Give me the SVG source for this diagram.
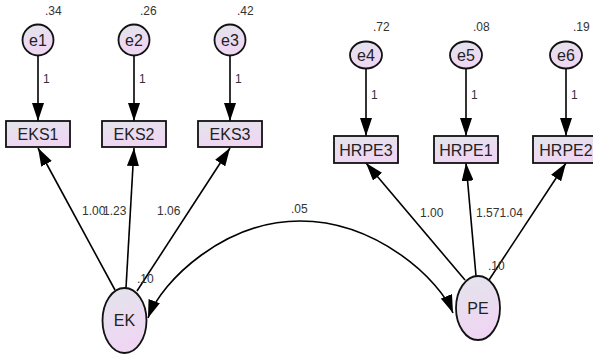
<svg xmlns="http://www.w3.org/2000/svg" width="593" height="357" viewBox="0 0 593 357">
<defs>
<linearGradient id="g" x1="0" y1="0" x2="0.3" y2="1">
<stop offset="0" stop-color="#e3e4ec"/>
<stop offset="1" stop-color="#efd6f3"/>
</linearGradient>
<marker id="ah" viewBox="0 0 18 12" refX="18" refY="6" markerWidth="18" markerHeight="12" orient="auto-start-reverse" markerUnits="userSpaceOnUse">
<path d="M0,0 L18,6 L0,12 z" fill="#000"/>
</marker>
</defs>
<style>
.n{fill:url(#g);stroke:#111;stroke-width:1.8}
.t{font-family:"Liberation Sans",Arial,sans-serif;font-size:16px;fill:#222;text-anchor:middle}
.s{font-family:"Liberation Sans",Arial,sans-serif;font-size:12px;fill:#333}
.c{fill:none;stroke:#000;stroke-width:1.6}
.a{marker-end:url(#ah)}
.b{marker-start:url(#ah);marker-end:url(#ah)}
</style>
<g id="connectors">
<line class="c a" x1="38" y1="55.5" x2="38" y2="121"/>
<line class="c a" x1="134" y1="55.5" x2="134" y2="121"/>
<line class="c a" x1="230" y1="55.5" x2="230" y2="121"/>
<line class="c a" x1="366" y1="68.5" x2="366" y2="136"/>
<line class="c a" x1="466" y1="68.5" x2="466" y2="136"/>
<line class="c a" x1="566" y1="68.5" x2="566" y2="136"/>
<line class="c a" x1="115" y1="290" x2="38" y2="148"/>
<line class="c a" x1="126" y1="288" x2="134" y2="148"/>
<line class="c a" x1="137" y1="291" x2="230" y2="148"/>
<line class="c a" x1="465" y1="280" x2="366" y2="163"/>
<line class="c a" x1="476" y1="276" x2="466" y2="163"/>
<line class="c a" x1="489" y1="280" x2="566" y2="163"/>
<path class="c b" d="M148,318 C162,280 225,221 300,221 C377,221 440,280 453,313"/>
<text class="s" x="43" y="83">1</text>
<text class="s" x="139" y="83">1</text>
<text class="s" x="235" y="83">1</text>
<text class="s" x="371" y="99">1</text>
<text class="s" x="471" y="99">1</text>
<text class="s" x="571" y="99">1</text>
<text class="s" x="82" y="215">1.00</text>
<text class="s" x="103" y="215">1.23</text>
<text class="s" x="157" y="215">1.06</text>
<text class="s" x="420" y="217">1.00</text>
<text class="s" x="476" y="217">1.57</text>
<text class="s" x="499.5" y="217">1.04</text>
<text class="s" x="291" y="213">.05</text>
</g>
<g id="e1"><circle class="n" cx="38" cy="40" r="15.5"/><text class="t" x="38" y="45.5">e1</text><text class="s" x="45" y="15">.34</text></g>
<g id="e2"><circle class="n" cx="134" cy="40" r="15.5"/><text class="t" x="134" y="45.5">e2</text><text class="s" x="140" y="15">.26</text></g>
<g id="e3"><circle class="n" cx="230" cy="40" r="15.5"/><text class="t" x="230" y="45.5">e3</text><text class="s" x="237" y="15">.42</text></g>
<g id="e4"><ellipse class="n" cx="366" cy="55" rx="16" ry="13.5"/><text class="t" x="366" y="60.5">e4</text><text class="s" x="373" y="31">.72</text></g>
<g id="e5"><ellipse class="n" cx="466" cy="55" rx="16" ry="13.5"/><text class="t" x="466" y="60.5">e5</text><text class="s" x="473" y="31">.08</text></g>
<g id="e6"><ellipse class="n" cx="566" cy="55" rx="16" ry="13.5"/><text class="t" x="566" y="60.5">e6</text><text class="s" x="573" y="31">.19</text></g>
<g id="EKS1"><rect class="n" x="6" y="121" width="64" height="26"/><text class="t" x="38" y="140">EKS1</text></g>
<g id="EKS2"><rect class="n" x="102" y="121" width="64" height="26"/><text class="t" x="134" y="140">EKS2</text></g>
<g id="EKS3"><rect class="n" x="198" y="121" width="64" height="26"/><text class="t" x="230" y="140">EKS3</text></g>
<g id="HRPE3"><rect class="n" x="334" y="136" width="64" height="27"/><text class="t" x="366" y="155.5">HRPE3</text></g>
<g id="HRPE1"><rect class="n" x="434" y="136" width="64" height="27"/><text class="t" x="466" y="155.5">HRPE1</text></g>
<g id="HRPE2"><rect class="n" x="533" y="136" width="66" height="27"/><text class="t" x="566" y="155.5">HRPE2</text></g>
<g id="EK"><ellipse class="n" cx="124.5" cy="320.5" rx="22" ry="32.5"/><text class="t" x="124.5" y="326">EK</text><text class="s" x="137" y="283">.10</text></g>
<g id="PE"><ellipse class="n" cx="478" cy="308" rx="22" ry="32"/><text class="t" x="478" y="313.5">PE</text><text class="s" x="488" y="270">.10</text></g>
</svg>
